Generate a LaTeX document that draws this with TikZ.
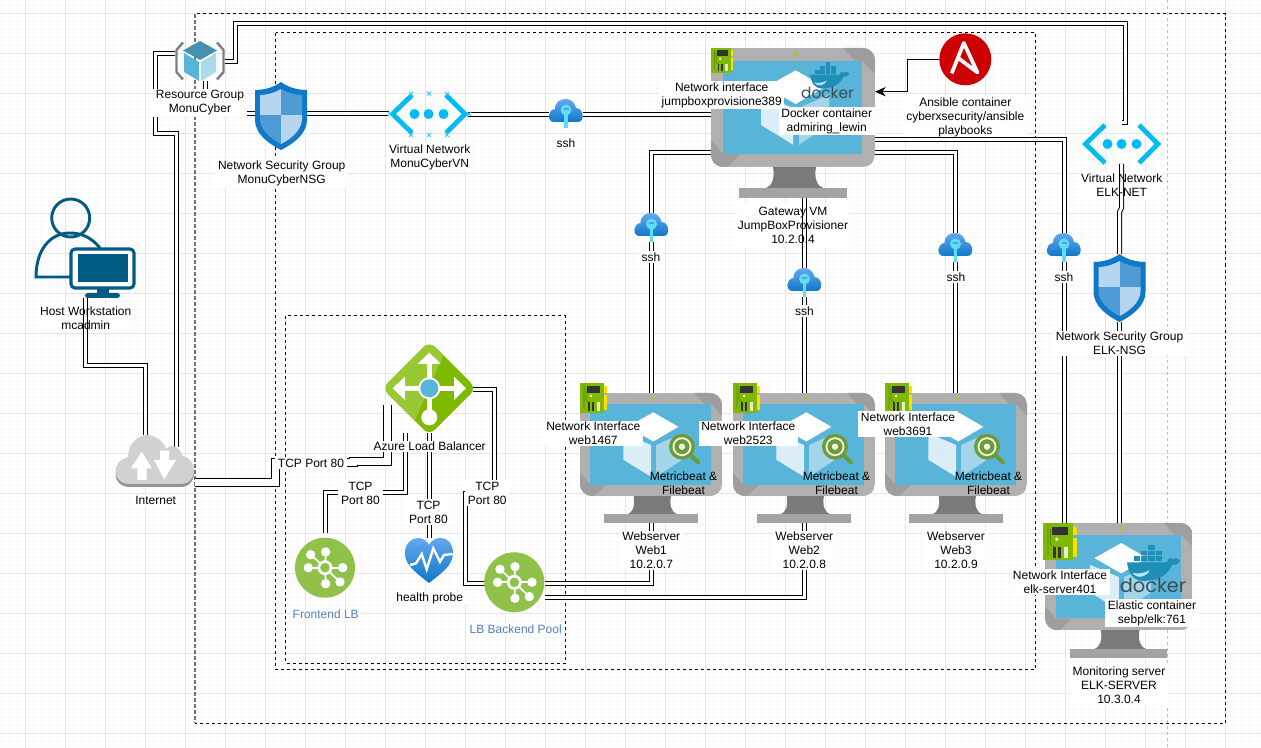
\documentclass[tikz,border=0pt]{standalone}
\usepackage{fontspec}
\setmainfont{Liberation Sans}
\newfontfamily\dockerfont{Poppins}
\usetikzlibrary{arrows.meta}

\definecolor{gridmajor}{HTML}{E6E6E6}
\definecolor{gridminor}{HTML}{F8F8F8}
\definecolor{screenblue}{HTML}{59B4D9}
\definecolor{azureblue}{HTML}{0F78C8}
\definecolor{skyblue}{HTML}{00BCF2}
\definecolor{darkpetrol}{HTML}{005B82}
\definecolor{hubgreen}{HTML}{8FC14B}
\definecolor{lbgreen}{HTML}{7FBA00}
\definecolor{labelblue}{HTML}{4F7FC0}
\definecolor{shieldlight}{HTML}{B5D6EE}
\definecolor{shielddark}{HTML}{4F9BD6}
\definecolor{cloudtop}{HTML}{64A8F0}
\definecolor{keycyan}{HTML}{5FDDF7}
\definecolor{whaleblue}{HTML}{1F8FB8}
\definecolor{dockergrey}{HTML}{394D54}
\definecolor{beatolive}{HTML}{6D9A3B}

\tikzset{
    iconbox/.style 2 args={rectangle, inner sep=0pt, outer sep=0pt, minimum width=#1*0.75pt, minimum height=#2*0.75pt},
    link/.style={draw=black, line width=0.75pt, double=white, double distance=2.25pt},
    widelink/.style={draw=black, line width=0.75pt, double=white, double distance=5.25pt},
    dashbox/.style={draw=black, line width=0.75pt, dash pattern=on 2.25pt off 2.25pt},
    lbl/.style={fill=white, inner xsep=2pt, inner ysep=1pt, align=center, font=\fontsize{9}{10.5}\selectfont},
    lblclear/.style={inner sep=0pt, align=center, font=\fontsize{9}{10.5}\selectfont}
}

% monitor with the cube on its screen
\newcommand{\vmicon}[3]{
    \begin{scope}[shift={(#1,#2)},scale=#3]
        \fill[black!52] (62,119) -- (105,119) .. controls (103,130) and (106,138) .. (112,140) -- (55,140) .. controls (61,138) and (64,130) .. (62,119) -- cycle;
        \fill[black!36] (28,140) rectangle (136,150);
        \begin{scope}
            \clip[rounded corners=9pt] (0,0) rectangle (164,119);
            \fill[black!31] (0,0) rectangle (164,119);
            \fill[black!38] (132,0) -- (164,0) -- (164,26) -- (151,13) -- (144,13) -- cycle;
            \fill[black!38] (0,119) -- (0,92) -- (12,106) -- (30,106) -- (16,119) -- cycle;
        \end{scope}
        \fill[screenblue] (12,13) rectangle (151,106);
        \fill[white!78!screenblue] (50,46.5) -- (82,60) -- (82,96.6) -- (50,77) -- cycle;
        \fill[white!45!screenblue] (88,60) -- (118,46.5) -- (118,77) -- (88,96.6) -- cycle;
        \fill[white] (84.7,22.3) -- (113.5,39) -- (84.7,56) -- (55,39) -- cycle;
        \fill[lbgreen!70!yellow] (84,6) circle (2);
    \end{scope}
}
% network card, 24 by 30 before scaling
\newcommand{\nicicon}[3]{
    \begin{scope}[shift={(#1,#2)},scale=#3]
        \fill[yellow!80!orange] (24,3) rectangle (27,10);
        \fill[yellow!80!orange] (24,12) rectangle (27,27);
        \fill[lbgreen] (0,0) rectangle (24,30);
        \draw[lbgreen!70!black, line width=0.5pt] (4,2) -- (4,26) (6,5) -- (6,17) -- (10,20);
        \fill[black!80] (7,3) rectangle (20,10);
        \fill[white] (11,13) circle (1.4);
        \fill[black!80] (8,19) rectangle (10,28);
        \fill[black!80] (12,19) rectangle (14,28);
        \fill[white!80!lbgreen] (17,19) rectangle (20,28);
    \end{scope}
}
% cloud with a key
\newcommand{\keycloud}[2]{
    \begin{scope}[shift={(#1,#2)}]
        \path[top color=cloudtop, bottom color=azureblue] (5,23) .. controls (-2,23) and (-2,11) .. (6,10) .. controls (6,3) and (11,0) .. (17,0) .. controls (22,0) and (26,4) .. (27,9) .. controls (35,9) and (36,23) .. (29,23) -- cycle;
        \draw[keycyan, line width=2.4pt] (17,13) -- (17,29);
        \fill[keycyan] (17,11) circle (5.5);
        \fill[azureblue!70!white] (14.5,9.5) rectangle (19.5,11.5);
    \end{scope}
}
% shield with four quarters
\newcommand{\shieldicon}[2]{
    \begin{scope}[shift={(#1,#2)}]
        \fill[azureblue] (26,0) .. controls (34,6) and (44,8) .. (52,8) -- (52,38) .. controls (52,52) and (38,62) .. (26,68) .. controls (14,62) and (0,52) .. (0,38) -- (0,8) .. controls (8,8) and (18,6) .. (26,0) -- cycle;
        \begin{scope}
            \clip (26,7) .. controls (33,11) and (40,13) .. (47,13) -- (47,37) .. controls (47,48) and (36,57) .. (26,62) .. controls (16,57) and (5,48) .. (5,37) -- (5,13) .. controls (12,13) and (19,11) .. (26,7) -- cycle;
            \fill[shieldlight] (0,0) rectangle (26,33);
            \fill[shielddark] (26,0) rectangle (52,33);
            \fill[shielddark] (0,33) rectangle (26,68);
            \fill[shieldlight] (26,33) rectangle (52,68);
        \end{scope}
    \end{scope}
}
% two chevrons with three dots
\newcommand{\vneticon}[2]{
    \begin{scope}[shift={(#1,#2)}]
        \draw[skyblue, line width=3.6pt] (-16.5,-19) -- (-36,0) -- (-16.5,19);
        \draw[skyblue, line width=3.6pt] (17.5,-19) -- (36.5,0) -- (17.5,19);
        \fill[skyblue] (-14,0) circle (5) (0,0) circle (5) (15,0) circle (5);
    \end{scope}
}
% green circle with a star of small circles
\newcommand{\hubicon}[2]{
    \begin{scope}[shift={(#1,#2)}]
        \fill[hubgreen] (0,0) circle (30);
        \foreach \hx/\hy in {-14.3/-13,0.7/-15.7,17.7/0,15/14.3,0.7/16,-16.7/0} {
            \draw[white, line width=1.3pt] (0,0) -- (\hx,\hy);
            \fill[white] (\hx,\hy) circle (4.7);
        }
        \fill[white] (0,0) circle (7.5);
        \fill[hubgreen] (0,0) circle (4.8);
    \end{scope}
}
% whale with containers, 40 by 28 before scaling
\newcommand{\whaleicon}[3]{
    \begin{scope}[shift={(#1,#2)},scale=#3]
        \foreach \cx/\cy in {5/8.5,10.5/8.5,16/8.5,21.5/8.5,10.5/4.2,16/4.2,21.5/4.2,16/0} {
            \fill[whaleblue] (\cx,\cy) rectangle ++(4.7,3.6);
        }
        \fill[whaleblue] (0,13) -- (30,13) .. controls (31,10) and (33,9) .. (34,11) .. controls (36,9) and (39,10) .. (40,12) .. controls (38,15) and (36,15) .. (34,15) .. controls (30,24) and (22,27) .. (12,27) .. controls (4,27) and (1,20) .. (0,13) -- cycle;
        \fill[white!70!cyan] (4,21) .. controls (9,22) and (13,21) .. (17,19) .. controls (15,24) and (8,26) .. (4,21) -- cycle;
    \end{scope}
}
% magnifier on the web servers
\newcommand{\beaticon}[2]{
    \begin{scope}[shift={(#1,#2)}]
        \draw[beatolive, line width=3.2pt, line cap=round] (9,9) -- (16,15.5);
        \fill[beatolive] (0,0) circle (13);
        \fill[white!85!lbgreen] (0,0) circle (9.5);
        \fill[beatolive] (0,0) circle (7.5);
        \fill[white!85!lbgreen] (0,0) circle (3.2);
    \end{scope}
}

\begin{document}
\begin{tikzpicture}[x=0.75pt, y=-0.75pt]
    \useasboundingbox (0,0) rectangle (1261,748);
    \fill[white] (0,0) rectangle (1261,748);

    % page grid
    \foreach \x in {1.7,9.7,...,1261} \draw[gridminor, line width=0.75pt] (\x,0) -- (\x,748);
    \foreach \y in {5.3,13.3,...,748} \draw[gridminor, line width=0.75pt] (0,\y) -- (1261,\y);
    \foreach \x in {25.7,65.7,...,1261} \draw[gridmajor, line width=0.75pt] (\x,0) -- (\x,748);
    \foreach \y in {13.3,53.3,...,748} \draw[gridmajor, line width=0.75pt] (0,\y) -- (1261,\y);
    \draw[black!25, line width=0.75pt, dash pattern=on 2.25pt off 2.25pt] (1167.7,0) -- (1167.7,748);

    % dashed groups
    \draw[dashbox] (195,14) rectangle (1225.5,723);
    \draw[black!55, line width=1.1pt, dash pattern=on 3pt off 1.5pt] (195,14) -- (195,723);
    \draw[dashbox] (275.5,33) rectangle (1035,669.5);
    \draw[dashbox] (285.7,316) rectangle (565.5,663);

    % icon places
    \node[iconbox={99}{99}] (workstation) at (85.5,248.5) {};
    \node[iconbox={80}{52}] (internet) at (155,461) {};
    \node[iconbox={50}{40}] (resgroup) at (200,61) {};
    \node[iconbox={52}{68}] (nsgmonu) at (281,116) {};
    \node[iconbox={79}{45}] (vnetmonu) at (428.5,114.5) {};
    \node[iconbox={34}{29}] (sshvm) at (566,113.5) {};
    \node[iconbox={164}{150}] (gatewayvm) at (793,123) {};
    \node[iconbox={52}{52}] (ansible) at (965.3,59.3) {};
    \node[iconbox={34}{29}] (sshweba) at (651.5,227.5) {};
    \node[iconbox={34}{29}] (sshwebb) at (804.5,282.5) {};
    \node[iconbox={34}{29}] (sshwebc) at (955.5,247.5) {};
    \node[iconbox={34}{29}] (sshelk) at (1064,247.5) {};
    \node[iconbox={79}{40}] (vnetelk) at (1121.5,144) {};
    \node[iconbox={52}{68}] (nsgelk) at (1119.5,288) {};
    \node[iconbox={142}{130}] (weba) at (651,458) {};
    \node[iconbox={142}{130}] (webb) at (804,458) {};
    \node[iconbox={142}{130}] (webc) at (956,458) {};
    \node[iconbox={148}{135}] (elkserver) at (1119,590.5) {};
    \node[iconbox={30}{38}] (nicelk) at (1058,542) {};
    \node[iconbox={88}{89}] (loadbal) at (429,388.5) {};
    \node[iconbox={60}{60}] (frontlb) at (325,567.5) {};
    \node[iconbox={48}{45}] (probe) at (429,560.5) {};
    \node[iconbox={60}{60}] (backlb) at (514.5,582.5) {};

    % white behind the labels that the lines run through
    \fill[white] (40,304) rectangle (132,333);
    \fill[white] (737,204) rectangle (850,247);
    \fill[white] (1080,172) rectangle (1163,199);
    \node[lbl] (lblansible) at (965.3,117.2) {Ansible container\\cyberxsecurity/ansible\\playbooks};

    % connectors
    \draw[link] (workstation.south) -- (85.5,365.5) -| (145.7,0 |- internet.north);
    \draw[link] (176.7,0 |- internet.north) ++(0,12) -- (176.7,133.5) -- (155.7,133.5) -- (155.7,53.5) -- (resgroup.west |- 0,53.5);
    \draw[link] (205,0 |- resgroup.south) -- (205,113.5) -- (nsgmonu.west |- 0,113.5);
    \draw[link] (nsgmonu.east |- 0,113.5) -- (vnetmonu.west |- 0,113.5);
    \draw[link] (vnetmonu.east |- 0,114.5) -- (sshvm.west |- 0,114.5);
    \draw[link] (sshvm.east |- 0,114.5) -- (gatewayvm.west |- 0,114.5);
    \draw[link] (resgroup.east |- 0,61.5) -- (235.5,61.5) -- (235.5,23.3) -- (1125.7,23.3) -- (1125.7,123) -- (vnetelk.north |- 0,123);
    \draw[link] (vnetelk.south) -- (1121.5,208) -- (nsgelk.north |- 0,212) -- (nsgelk.north);
    \draw[link] (nsgelk.south) -- (nsgelk.south |- elkserver.north);
    \draw[link] (gatewayvm.east |- 0,139.5) -| (sshelk.north);
    \draw[link] (sshelk.south) -- (sshelk.south |- nicelk.north);
    \draw[link] (gatewayvm.east |- 0,152.7) -| (sshwebc.north);
    \draw[link] (sshwebc.south) -- (sshwebc.south |- webc.north);
    \draw[link] (gatewayvm.west |- 0,152.7) -| (sshweba.north);
    \draw[link] (sshweba.south) -- (sshweba.south |- weba.north);
    \draw[link] (sshwebb.north |- gatewayvm.south) -- (sshwebb.north);
    \draw[link] (sshwebb.south) -- (sshwebb.south |- webb.north);
    \draw[widelink] (internet.east |- 0,483) -- (275.5,483) -- (275.5,463) -- (353,463) -- (353,461.5) -- (387,461.5) -- (387,405);
    \draw[link] (405.5,0 |- loadbal.south) -- (405.5,493) -| (frontlb.north |- 0,533);
    \draw[link] (loadbal.south) -- (loadbal.south |- probe.north);
    \draw[link] (loadbal.east |- 0,389.3) -- (494.7,389.3) -- (494.7,493.7) -- (465.7,493.7) -- (465.7,583.7) -- (backlb.west |- 0,583.7);
    \draw[link] (backlb.east |- 0,583) -| (sshweba.south |- weba.south);
    \draw[link] (backlb.east |- 0,597) -- (804.5,597) -- (sshwebb.south |- webb.south);
    \draw[-{Stealth[length=8pt,width=7pt]}, line width=0.9pt] (ansible.west) -- (907.7,59.3) -- (907.7,91.7) -- (gatewayvm.east |- 0,91.7);

    % labels printed over those lines
    \node[lblclear] (lblhost) at (85.7,318.5) {Host Workstation\\mcadmin};
    \node[lblclear] (lblgateway) at (793,225.7) {Gateway VM\\JumpBoxProvisioner\\10.2.0.4};
    \node[lblclear] (lblvnetelk) at (1121.7,185.5) {Virtual Network\\ELK-NET};

    % workstation
    \draw[darkpetrol, line width=2.2pt] (70.7,218) circle (19);
    \draw[darkpetrol, line width=2.2pt] (100,248) .. controls (92,238) and (82,233) .. (70,233) .. controls (50,233) and (36,250) .. (36,277) -- (72,277);
    \draw[darkpetrol, fill=white, line width=2.3pt, rounded corners=3pt] (71,249) rectangle (134,288);
    \fill[darkpetrol] (77.7,254.5) rectangle (127.7,282);
    \fill[darkpetrol] (97,288) rectangle (109,294);
    \fill[darkpetrol, rounded corners=2pt] (85,293) rectangle (120,298);

    % internet cloud
    \fill[black!42] (130,487) .. controls (112,487) and (110,465) .. (128,460) .. controls (128,445) and (140,438) .. (147,438) .. controls (155,438) and (163,444) .. (166,452) .. controls (172,446) and (180,450) .. (182,459) .. controls (198,461) and (199,487) .. (180,487) -- cycle;
    \fill[black!18] (130,484) .. controls (112,484) and (110,462) .. (128,457) .. controls (128,442) and (140,435) .. (147,435) .. controls (155,435) and (163,441) .. (166,449) .. controls (172,443) and (180,447) .. (182,456) .. controls (198,458) and (199,484) .. (180,484) -- cycle;
    \fill[white] (141.7,451.7) -- (152,468.3) -- (146.7,468.3) -- (146.7,480) -- (137.3,480) -- (137.3,468.3) -- (131,468.3) -- cycle;
    \fill[white] (164.3,479.3) -- (176,460) -- (169,460) -- (169,450.7) -- (160,450.7) -- (160,460) -- (154,460) -- cycle;

    % resource group
    \draw[black!50, line width=1.8pt] (183,42.5) -- (176.5,50) -- (176.5,72) -- (183,79.5);
    \draw[black!50, line width=1.8pt] (217,42.5) -- (223.5,50) -- (223.5,72) -- (217,79.5);
    \fill[screenblue!80!black] (200,41) -- (217,50.5) -- (200,60) -- (183,50.5) -- cycle;
    \fill[screenblue] (184,53) -- (199,62) -- (199,81) -- (184,72) -- cycle;
    \fill[white!50!screenblue] (201,62) -- (216,53) -- (216,72) -- (201,81) -- cycle;

    % network security groups, virtual networks, keys
    \shieldicon{255}{82}
    \shieldicon{1093.5}{254}
    \vneticon{428.5}{114}
    \foreach \mx/\my in {411/94,429/93.5,447/94,390/114,469/114,411/135,429/135,447/135} {
        \draw[skyblue!80!white, line width=0.7pt] (\mx-2,\my-2) -- (\mx+2,\my+2) (\mx-2,\my+2) -- (\mx+2,\my-2);
    }
    \vneticon{1121.5}{144}
    \keycloud{549}{99}
    \keycloud{634.5}{213}
    \keycloud{787.5}{268}
    \keycloud{938.5}{233}
    \keycloud{1047}{233}

    % ansible
    \fill[red!80!black] (ansible.center) circle (26);
    \draw[white, line width=2.8pt, line join=round] (951.7,73.3) -- (963.8,43) -- (977.5,72.5) -- (957.5,57.5);

    % gateway
    \vmicon{711}{48}{1}
    \nicicon{711}{48}{0.833}
    \whaleicon{810}{62}{0.98}
    \node[inner sep=0pt, text=dockergrey, font=\dockerfont\fontsize{11.5}{12}\selectfont] (txtdockergw) at (827.5,93) {docker};

    % web servers
    \foreach \n/\x in {1/580,2/733,3/885} {
        \vmicon{\x}{393}{0.866}
        \nicicon{\x}{383}{1}
        \beaticon{\x+102}{446.7}
        \node[lblclear] (lblbeat\n) at (\x+103.5,483.5) {Metricbeat \&\\Filebeat};
    }

    % monitoring server
    \vmicon{1045}{523}{0.9}
    \nicicon{1043}{523}{1.25}
    \whaleicon{1127}{545}{1.33}
    \node[inner sep=0pt, text=dockergrey, font=\dockerfont\fontsize{14.5}{15}\selectfont] (txtdockerelk) at (1153,585) {docker};

    % load balancer
    \fill[lbgreen, rounded corners=6pt] (429.3,341.3) -- (476.3,388.3) -- (429.3,435.3) -- (382.3,388.3) -- cycle;
    \begin{scope}
        \clip[rounded corners=6pt] (429.3,341.3) -- (476.3,388.3) -- (429.3,435.3) -- (382.3,388.3) -- cycle;
        \fill[white!20!lbgreen] (380,340) -- (450,340) -- (408,436) -- (380,436) -- cycle;
    \end{scope}
    \draw[white, line width=4pt] (429.3,360) -- (429.3,412);
    \draw[white, line width=4pt] (402,388.3) -- (458,388.3);
    \fill[white] (429.3,352.7) -- (441,364) -- (417.6,364) -- cycle;
    \fill[white] (392.7,388.3) -- (405,376.6) -- (405,400) -- cycle;
    \fill[white] (466,388.3) -- (454,376.6) -- (454,400) -- cycle;
    \fill[white] (429.3,417.3) circle (8);
    \fill[white] (429.3,388.3) circle (11);
    \fill[screenblue] (429.3,388.3) circle (9);

    % frontend, probe, backend
    \hubicon{325}{567.7}
    \hubicon{514.3}{582.3}
    \path[top color=cloudtop, bottom color=azureblue] (429,583) .. controls (415,572) and (405,565) .. (405,553) .. controls (405,543) and (412,538) .. (418,538) .. controls (423,538) and (427,541) .. (429,545) .. controls (431,541) and (435,538) .. (441,538) .. controls (447,538) and (453,543) .. (453,553) .. controls (453,565) and (443,572) .. (429,583) -- cycle;
    \draw[white, line width=1.8pt] (410,565) -- (416,563.3) -- (421.7,554) -- (426.7,569.3) -- (433.3,548.3) -- (440,561.7) -- (444,555) -- (452.7,554);

    % labels over the lines and icons
    \node[lbl] (lblresgroup) at (200,103) {Resource Group\\MonuCyber};
    \node[lbl] (lblnsgmonu) at (281.7,173) {Network Security Group\\MonuCyberNSG};
    \node[lbl] (lblvnetmonu) at (429.7,157.3) {Virtual Network\\MonuCyberVN};
    \node[lbl] (lblsshvm) at (566,143) {ssh};
    \node[lbl] (lblnicgw) at (721.7,95.3) {Network interface\\jumpboxprovisione389};
    \node[lbl] (lbldocker) at (826.7,121.2) {Docker container\\admiring\_lewin};
    \node[lbl] (lblsshweba) at (651,257) {ssh};
    \node[lbl] (lblsshwebb) at (804.5,311) {ssh};
    \node[lbl] (lblsshwebc) at (956,277) {ssh};
    \node[lbl] (lblsshelk) at (1064,277) {ssh};
    \node[lbl] (lblnsgelk) at (1119.5,343.5) {Network Security Group\\ELK-NSG};
    \node[lbl] (lblnica) at (593.3,433.7) {Network Interface\\web1467};
    \node[lbl] (lblnicb) at (748.3,433.7) {Network Interface\\web2523};
    \node[lbl] (lblnicc) at (908,424) {Network Interface\\web3691};
    \node[lbl] (lblweba) at (651.3,550.3) {Webserver\\Web1\\10.2.0.7};
    \node[lbl] (lblwebb) at (804.3,550.3) {Webserver\\Web2\\10.2.0.8};
    \node[lbl] (lblwebc) at (956,550.3) {Webserver\\Web3\\10.2.0.9};
    \node[lbl] (lblnicelk) at (1060,582) {Network Interface\\elk-server401};
    \node[lbl] (lblelastic) at (1152,613) {Elastic container\\sebp/elk:761};
    \node[lbl] (lblelk) at (1119,685.7) {Monitoring server\\ELK-SERVER\\10.3.0.4};
    \node[lbl] (lblinternet) at (155.7,500.7) {Internet};
    \node[lbl] (lblloadbal) at (429.7,446.7) {Azure Load Balancer};
    \node[lbl] (lbltcpin) at (311,463) {TCP Port 80};
    \node[lbl] (lbltcpfront) at (360.5,493) {TCP\\Port 80};
    \node[lbl] (lbltcpprobe) at (428.5,512) {TCP\\Port 80};
    \node[lbl] (lbltcpback) at (487.3,493) {TCP\\Port 80};
    \node[lbl] (lblprobe) at (429.7,598) {health probe};
    \node[lbl, text=labelblue] (lblfront) at (325.7,614.7) {Frontend LB};
    \node[lbl, text=labelblue] (lblback) at (515.7,629.7) {LB Backend Pool};
\end{tikzpicture}
\end{document}
